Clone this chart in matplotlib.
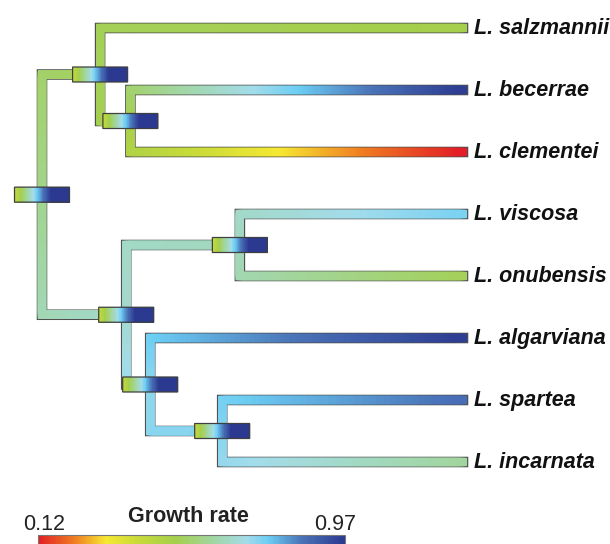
import numpy as np
import matplotlib
matplotlib.use("Agg")
import matplotlib.pyplot as plt
from matplotlib.colors import LinearSegmentedColormap, Normalize
from matplotlib.collections import LineCollection
from matplotlib.patches import Rectangle
from matplotlib.cm import ScalarMappable

plt.rcParams['font.family'] = ['Liberation Sans', 'DejaVu Sans']

# tips, top to bottom
tip_names = ['L. salzmannii', 'L. becerrae', 'L. clementei', 'L. viscosa',
             'L. onubensis', 'L. algarviana', 'L. spartea', 'L. incarnata']
tip_rate = [0.50, 0.96, 0.12, 0.74, 0.52, 0.96, 0.86, 0.60]
tip_parent = [1, 2, 2, 4, 4, 5, 6, 6]

# internal nodes (0 = root); depth as fraction of root-to-tip height
node_depth = [0.0, 0.138, 0.210, 0.200, 0.470, 0.257, 0.428]
node_rate = [0.58, 0.52, 0.50, 0.66, 0.64, 0.72, 0.73]
node_parent = [None, 0, 1, 0, 3, 3, 5]
# rate interval shown by the little boxes on each node
box_lo = [0.40] * 7
box_hi = [1.25] * 7

rate_min, rate_max = 0.12, 0.97

cmap = LinearSegmentedColormap.from_list('growth', [
    (0.00, '#e21f26'), (0.12, '#f07f22'), (0.22, '#f6e832'),
    (0.33, '#c6da3a'), (0.45, '#a4cf4c'), (0.58, '#a2d6a8'),
    (0.68, '#a3dcea'), (0.75, '#6ccef4'), (0.86, '#4a73b8'),
    (1.00, '#2b3990')])
norm = Normalize(rate_min, rate_max)

W, H = 610, 544
fig = plt.figure(figsize=(W / 100, H / 100), dpi=100)
ax = fig.add_axes([0, 0, 1, 1])
px_x, x0 = 421, 42      # pixels per depth unit, root position
px_y, y0 = 62, 28       # pixels per tip, first tip position
ax.set_xlim(-x0 / px_x, (W - x0) / px_x)
ax.set_ylim((H - y0) / px_y, -y0 / px_y)
ax.axis('off')

# y of internal nodes = middle of children, worked out bottom-up
node_y = [None] * len(node_depth)
def get_y(n):
    if node_y[n] is None:
        kids = [float(i) for i, p in enumerate(tip_parent) if p == n]
        kids += [get_y(j) for j, p in enumerate(node_parent) if p == n]
        node_y[n] = (min(kids) + max(kids)) / 2
    return node_y[n]
get_y(0)

branches = []  # (parent node, child x, child y, child rate)
for i, p in enumerate(tip_parent):
    branches.append((p, 1.0, float(i), tip_rate[i]))
for j, p in enumerate(node_parent):
    if p is not None:
        branches.append((p, node_depth[j], node_y[j], node_rate[j]))

outline_w, fill_w = 7.6, 5.9
for p, cx, cy, crate in branches:
    px, py = node_depth[p], node_y[p]
    # elbow path: vertical at parent, then horizontal to child
    pts = np.array([[px, py], [px, cy], [cx, cy]])
    disp = ax.transData.transform(pts)
    seg_len = np.hypot(*np.diff(disp, axis=0).T)
    cum = np.concatenate([[0], np.cumsum(seg_len)])
    total = cum[-1]
    s = np.union1d(np.linspace(0, total, 300), cum)
    xs = np.interp(s, cum, pts[:, 0])
    ys = np.interp(s, cum, pts[:, 1])
    ax.plot(pts[:, 0], pts[:, 1], color='#505050', lw=outline_w, snap=False,
            solid_capstyle='projecting', solid_joinstyle='miter', zorder=1)
    xy = np.column_stack([xs, ys])
    segs = np.stack([xy[:-1], xy[1:]], axis=1)
    keep = np.diff(s) > 1e-9
    vals = node_rate[p] + (crate - node_rate[p]) * (s[:-1] + s[1:]) / 2 / total
    lc = LineCollection(segs[keep], cmap=cmap, norm=norm, linewidths=fill_w,
                        capstyle='projecting', zorder=2, snap=False)
    lc.set_array(vals[keep])
    ax.add_collection(lc)

# node boxes
bw, bh = 27.5 / px_x, 7.5 / px_y
for n in range(len(node_depth)):
    x, y = node_depth[n], node_y[n]
    xe = np.linspace(x - bw, x + bw, 121)
    grad = np.linspace(box_lo[n], box_hi[n], 120).reshape(1, -1)
    ax.pcolormesh(xe, [y - bh, y + bh], grad, cmap=cmap, norm=norm,
                  shading='flat', zorder=3, antialiased=False, snap=False)
    ax.add_patch(Rectangle((x - bw, y - bh), 2 * bw, 2 * bh, fill=False,
                           edgecolor='#404040', lw=0.9, zorder=4, snap=False))

for i, name in enumerate(tip_names):
    ax.text(1 + 11 / px_x, i, name, fontsize=15.5, fontweight='bold',
            style='italic', va='center', ha='left', color='#111111')

# colour scale at the bottom
cax = fig.add_axes([38 / W, -8 / H, 307 / W, 17 / H])
cb = fig.colorbar(ScalarMappable(norm=norm, cmap=cmap), cax=cax,
                  orientation='horizontal')
cb.set_ticks([])
cb.outline.set_edgecolor('#777777')
cb.outline.set_linewidth(0.8)
fig.text(44 / W, 1 - 525 / H, f'{rate_min:.2f}', fontsize=15.5,
         ha='center', va='center', color='#222222')
fig.text(335 / W, 1 - 525 / H, f'{rate_max:.2f}', fontsize=15.5,
         ha='center', va='center', color='#222222')
fig.text(188 / W, 1 - 517 / H, 'Growth rate', fontsize=15.5,
         fontweight='bold', ha='center', va='center', color='#222222')

fig.savefig('out.png', dpi=100)
